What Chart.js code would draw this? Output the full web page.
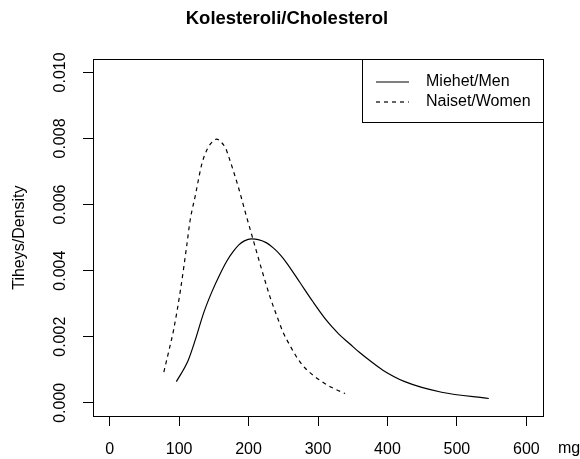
<!DOCTYPE html>
<html>
<head>
<meta charset="utf-8">
<script src="https://cdn.jsdelivr.net/npm/chart.js@4"></script>
<style>
  html, body { margin: 0; padding: 0; background: #fff; }
  #wrap { width: 580px; height: 459px; }
</style>
</head>
<body>
<div id="wrap"><canvas id="cholChart" width="580" height="459"></canvas></div>
<script>
// density curves, cholesterol in mg
const menMg = [96, 113, 124, 135, 147, 159, 169, 178, 186, 194, 204, 214, 226, 236, 246, 255, 274, 293, 312, 321, 330, 346, 360, 375, 394, 425, 478, 546];
const menDensity = [0.00064, 0.00128, 0.00195, 0.0027, 0.00335, 0.0039, 0.0043, 0.00458, 0.00478, 0.0049, 0.00496, 0.00494, 0.00484, 0.00468, 0.00447, 0.00423, 0.00364, 0.00305, 0.0025, 0.00228, 0.00208, 0.00178, 0.00152, 0.00127, 0.00098, 0.00064, 0.00032, 0.00013];

const womenMg = [78, 85, 92, 102, 111, 116, 123, 133, 141, 148, 154, 160, 167, 173, 185, 197, 206, 218, 231, 243, 250, 260, 267, 274, 281, 288, 295, 303, 320, 339];
const womenDensity = [0.00093, 0.00155, 0.0022, 0.00342, 0.00476, 0.00554, 0.00624, 0.00725, 0.0077, 0.0079, 0.00798, 0.0079, 0.0077, 0.00735, 0.00655, 0.00564, 0.00498, 0.0041, 0.0032, 0.0025, 0.00212, 0.00172, 0.00146, 0.00124, 0.00106, 0.00092, 0.0008, 0.00068, 0.00046, 0.00028];

const seriesLabels = ['Miehet/Men', 'Naiset/Women'];
const xTicks = [0, 100, 200, 300, 400, 500, 600];
const yTicks = [0, 0.002, 0.004, 0.006, 0.008, 0.010];

const FONT = "'Liberation Sans', Arial, Helvetica, sans-serif";

function toPoints(xs, ys) {
    return xs.map((x, i) => ({ x: x, y: ys[i] }));
}

// box around the plot, legend in the top right corner, unit label
const framePlugin = {
    id: 'frame',
    afterDraw(chart) {
        const ctx = chart.ctx;
        const a = chart.chartArea;
        ctx.save();
        ctx.strokeStyle = '#000';
        ctx.lineWidth = 1;
        ctx.strokeRect(Math.round(a.left) + 0.5, Math.round(a.top) + 0.5,
            Math.round(a.right - a.left), Math.round(a.bottom - a.top));

        // legend
        const lw = 181, lh = 63;
        const lx = Math.round(a.right) - lw, ly = Math.round(a.top);
        ctx.fillStyle = '#fff';
        ctx.fillRect(lx + 0.5, ly + 0.5, lw, lh);
        ctx.strokeRect(lx + 0.5, ly + 0.5, lw, lh);
        ctx.font = '16px ' + FONT;
        ctx.textBaseline = 'middle';
        ctx.textAlign = 'left';
        chart.data.datasets.forEach((ds, i) => {
            const y = ly + 23 + i * 20;
            ctx.beginPath();
            ctx.setLineDash(ds.borderDash || []);
            ctx.lineWidth = ds.borderWidth;
            ctx.moveTo(lx + 14, y);
            ctx.lineTo(lx + 47, y);
            ctx.stroke();
            ctx.setLineDash([]);
            ctx.fillStyle = '#000';
            ctx.fillText(ds.label, lx + 64, y);
        });

        // unit next to the x tick labels
        ctx.fillStyle = '#000';
        ctx.textAlign = 'left';
        ctx.textBaseline = 'middle';
        ctx.fillText('mg', a.right + 15, a.bottom + 33);
        ctx.restore();
    }
};

new Chart(document.getElementById('cholChart'), {
    type: 'line',
    data: {
        datasets: [{
            label: seriesLabels[0],
            data: toPoints(menMg, menDensity),
            borderColor: '#000',
            borderWidth: 1.2,
            pointRadius: 0,
            cubicInterpolationMode: 'monotone',
            fill: false
        }, {
            label: seriesLabels[1],
            data: toPoints(womenMg, womenDensity),
            borderColor: '#000',
            borderWidth: 1.2,
            borderDash: [4, 4],
            pointRadius: 0,
            cubicInterpolationMode: 'monotone',
            fill: false
        }]
    },
    options: {
        responsive: false,
        animation: false,
        layout: { padding: { left: 0, right: 6, top: 0, bottom: 0 } },
        plugins: {
            legend: { display: false },
            tooltip: { enabled: false },
            title: {
                display: true,
                text: 'Kolesteroli/Cholesterol',
                color: '#000',
                font: { family: FONT, size: 18.5, weight: 'bold' },
                padding: { top: 8, bottom: 29 }
            }
        },
        scales: {
            x: {
                type: 'linear',
                min: -24,
                max: 624,
                afterBuildTicks: s => { s.ticks = xTicks.map(v => ({ value: v })); },
                afterFit: s => { s.height = 43; },
                border: { display: false },
                grid: { drawOnChartArea: false, drawTicks: true, tickLength: 10, tickColor: '#000', tickWidth: 1 },
                ticks: {
                    color: '#000',
                    font: { family: FONT, size: 16 },
                    padding: 14,
                    maxRotation: 0,
                    callback: v => String(v)
                }
            },
            y: {
                type: 'linear',
                min: -0.0004,
                max: 0.0104,
                afterBuildTicks: s => { s.ticks = yTicks.map(v => ({ value: v })); },
                afterFit: s => { s.width = 93; },
                border: { display: false },
                grid: { drawOnChartArea: false, drawTicks: true, tickLength: 10, tickColor: '#000', tickWidth: 1 },
                ticks: {
                    color: '#000',
                    font: { family: FONT, size: 16 },
                    minRotation: 90,
                    maxRotation: 90,
                    crossAlign: 'center',
                    padding: 2,
                    callback: v => v.toFixed(3)
                },
                title: {
                    display: true,
                    text: 'Tiheys/Density',
                    color: '#000',
                    font: { family: FONT, size: 16 },
                    padding: { top: 10, bottom: 0 }
                }
            },
            // empty margin on the right, room for the unit label
            margin: {
                type: 'linear',
                position: 'right',
                display: true,
                afterFit: s => { s.width = 31; },
                border: { display: false },
                grid: { display: false },
                ticks: { display: false }
            }
        }
    },
    plugins: [framePlugin]
});
</script>
</body>
</html>
